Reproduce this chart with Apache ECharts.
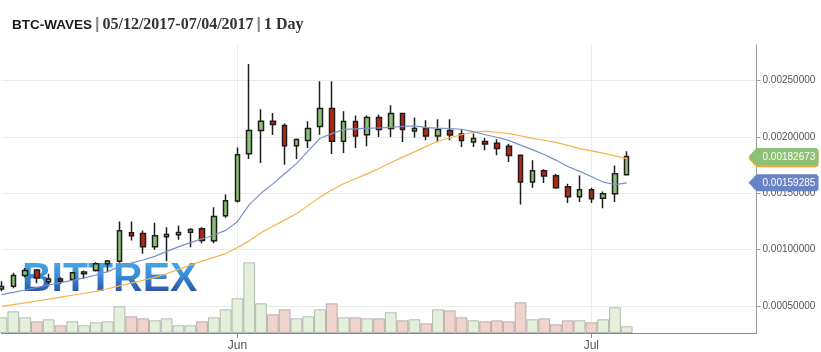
<!DOCTYPE html>
<html><head><meta charset="utf-8">
<script src="https://cdn.jsdelivr.net/npm/echarts@6/dist/echarts.min.js"></script>
<style>
html,body{margin:0;padding:0;background:#fff}
#wrap{position:relative;width:821px;height:352px}
#wm{position:absolute;left:22px;top:254px;font:bold 41px "Liberation Sans",Arial,sans-serif;line-height:46px;
 background:linear-gradient(to bottom,#45b6ee 0%,#3a8fd8 45%,#26378f 100%);-webkit-background-clip:text;background-clip:text;color:transparent;z-index:0;white-space:nowrap}
#c{position:absolute;left:0;top:0;width:821px;height:352px;z-index:1}
</style>
</head><body><div id="wrap"><div id="wm">BITTREX</div><div id="c"></div></div>
<script>
const dates = ['05-12','05-13','05-14','05-15','05-16','05-17','05-18','05-19','05-20','05-21','05-22','05-23','05-24','05-25','05-26','05-27','05-28','05-29','05-30','05-31',
'06-01','06-02','06-03','06-04','06-05','06-06','06-07','06-08','06-09','06-10','06-11','06-12','06-13','06-14','06-15','06-16','06-17','06-18','06-19','06-20','06-21','06-22','06-23','06-24','06-25','06-26','06-27','06-28','06-29','06-30',
'07-01','07-02','07-03','07-04','07-05','07-06','07-07','07-08','07-09','07-10','07-11','07-12','07-13','07-14','07-15'];
const monthLabels = {'06-01':'Jun','07-01':'Jul'};
const priceStep = 0.0005;

const opens = [0.000651,0.000674,0.000770,0.000820,0.000716,0.000740,0.000734,0.000785,0.000814,0.000874,
0.000897,0.001149,0.001143,0.001025,0.001114,0.001132,0.001155,0.001185,0.001078,0.001301,
0.001431,0.001852,0.002057,0.002140,0.002101,0.001923,0.001968,0.002093,0.002253,0.001962,
0.002137,0.002021,0.002173,0.002075,0.002208,0.002053,0.002075,0.002009,0.002057,0.002027,
0.001956,0.001959,0.001944,0.001917,0.001837,0.001600,0.001701,0.001657,0.001559,0.001470,
0.001532,0.001457,0.001496,0.001665];
const closes = [0.000672,0.000770,0.000814,0.000749,0.000740,0.000719,0.000794,0.000802,0.000874,0.000900,
0.001167,0.001123,0.001025,0.001123,0.001134,0.001152,0.001179,0.001081,0.001294,0.001434,
0.001843,0.002057,0.002140,0.002110,0.001923,0.001977,0.002075,0.002253,0.001962,0.002137,
0.002009,0.002173,0.002066,0.002208,0.002066,0.002075,0.002009,0.002066,0.002018,0.001968,
0.001986,0.001938,0.001897,0.001835,0.001600,0.001701,0.001653,0.001550,0.001470,0.001532,
0.001452,0.001496,0.001674,0.00182673];
const lows = [0.000630,0.000657,0.000752,0.000701,0.000696,0.000696,0.000725,0.000740,0.000805,0.000799,
0.000883,0.001081,0.000963,0.001000,0.000897,0.001087,0.001021,0.001057,0.001057,0.001283,
0.001419,0.001804,0.001769,0.002018,0.001754,0.001804,0.001902,0.002021,0.001849,0.001858,
0.001902,0.001917,0.002000,0.002000,0.001956,0.001995,0.001971,0.001953,0.001971,0.001911,
0.001911,0.001882,0.001837,0.001778,0.001401,0.001550,0.001591,0.001541,0.001413,0.001422,
0.001413,0.001368,0.001422,0.001665];
const highs = [0.000719,0.000794,0.000838,0.000829,0.000785,0.000754,0.000799,0.000814,0.000888,0.000909,
0.001250,0.001250,0.001170,0.001238,0.001199,0.001214,0.001190,0.001199,0.001377,0.001490,
0.001906,0.002647,0.002246,0.002214,0.002119,0.001986,0.002140,0.002496,0.002496,0.002229,
0.002190,0.002190,0.002199,0.002282,0.002215,0.002173,0.002149,0.002157,0.002157,0.002066,
0.002030,0.001991,0.001980,0.001941,0.001840,0.001793,0.001713,0.001674,0.001585,0.001659,
0.001550,0.001517,0.001748,0.001873];
const volumes = [157,217,157,117,137,77,117,77,107,117,
267,167,147,127,147,77,77,117,157,237,
347,707,297,187,237,147,167,237,297,157,
157,147,147,207,127,137,97,237,227,157,
127,117,127,117,307,137,147,87,127,127,
107,137,257,67];
const maFast = [0.000600,0.000620,0.000642,0.000664,0.000686,0.000707,0.000728,0.000750,0.000775,0.000805,
0.000850,0.000880,0.000908,0.000940,0.000985,0.001025,0.001062,0.001095,0.001130,0.001171,
0.001248,0.001400,0.001500,0.001584,0.001674,0.001764,0.001877,0.001989,0.002030,0.002067,
0.002073,0.002078,0.002080,0.002085,0.002093,0.002098,0.002083,0.002078,0.002075,0.002069,
0.002048,0.002020,0.001998,0.001970,0.001928,0.001888,0.001845,0.001795,0.001738,0.001695,
0.001650,0.001600,0.001578,0.00159285];
const maSlow = [0.000496,0.000512,0.000528,0.000544,0.000560,0.000578,0.000595,0.000613,0.000630,0.000653,
0.000678,0.000703,0.000728,0.000754,0.000786,0.000825,0.000862,0.000898,0.000932,0.000965,
0.001019,0.001078,0.001150,0.001207,0.001262,0.001318,0.001393,0.001468,0.001530,0.001585,
0.001629,0.001673,0.001721,0.001771,0.001821,0.001868,0.001917,0.001962,0.001993,0.002020,
0.002042,0.002052,0.002042,0.002030,0.002011,0.001988,0.001971,0.001953,0.001926,0.001897,
0.001877,0.001857,0.001833,0.001808];

const FONT = '"Liberation Sans", Arial, sans-serif';
const UP = '#8cc176', DOWN = '#b8290f';
const chart = echarts.init(document.getElementById('c'));
const candleData = opens.map((o, i) => [o, closes[i], lows[i], highs[i]]);
const volData = volumes.map((v, i) => ({value: v, itemStyle: {color: closes[i] >= opens[i] ? '#e4f0dc' : '#efd3cc'}}));
const isMonth = (idx, val) => monthLabels[val] !== undefined;

chart.setOption({
  animation: false,
  backgroundColor: 'transparent',
  title: {
    left: 12, top: 15, padding: 0,
    text: '{a|BTC-WAVES}{s||}{b|05/12/2017-07/04/2017}{s||}{b|1 Day}',
    textStyle: {
      rich: {
        a: {fontFamily: FONT, fontWeight: 'bold', fontSize: 13.5, color: '#1a1a1a', lineHeight: 20},
        s: {fontFamily: FONT, fontSize: 16, color: '#888', padding: [0, 3, 0, 3], lineHeight: 20},
        b: {fontFamily: '"Liberation Serif", serif', fontSize: 16, color: '#333', lineHeight: 20}
      }
    }
  },
  grid: [
    {left: 1.5, right: 64.5, top: 45, bottom: 0},
    {left: 1.5, right: 64.5, top: 45, bottom: 19}
  ],
  xAxis: [
    {type: 'category', gridIndex: 0, data: dates, boundaryGap: false, show: false},
    {type: 'category', gridIndex: 1, data: dates, boundaryGap: false,
     axisLine: {lineStyle: {color: '#8a8a8a'}},
     axisTick: {interval: isMonth, length: 5, lineStyle: {color: '#8a8a8a'}},
     axisLabel: {interval: isMonth, formatter: v => monthLabels[v] || '', color: '#555', fontSize: 12, fontFamily: FONT, margin: 7},
     splitLine: {show: true, interval: isMonth, lineStyle: {color: '#ebebeb'}}}
  ],
  yAxis: [
    {type: 'value', gridIndex: 0, position: 'right', min: 0.0000914, max: 0.0028167,
     minInterval: priceStep, maxInterval: priceStep,
     axisLine: {show: false},
     axisTick: {show: true, length: 4, lineStyle: {color: '#999'}},
     axisLabel: {formatter: v => v.toFixed(8), color: '#555', fontSize: 10, fontFamily: FONT, margin: 6, showMaxLabel: false, showMinLabel: false},
     splitLine: {show: true, showMaxLine: false, showMinLine: false, lineStyle: {color: '#ebebeb'}}},
    {type: 'value', gridIndex: 1, position: 'right', min: 0, max: 2880,
     axisLine: {show: true, lineStyle: {color: '#9a9a9a'}},
     axisTick: {show: false}, axisLabel: {show: false}, splitLine: {show: false}}
  ],
  series: [
    {type: 'bar', xAxisIndex: 1, yAxisIndex: 1, data: volData, barWidth: 11.8, z: 1,
     itemStyle: {borderColor: 'rgba(110,110,110,0.45)', borderWidth: 1}},
    {type: 'candlestick', xAxisIndex: 0, yAxisIndex: 0, data: candleData, barWidth: 5, clip: false, z: 3,
     itemStyle: {color: UP, color0: DOWN, borderColor: '#1e1e1e', borderColor0: '#1e1e1e', borderWidth: 1.5}},
    {type: 'line', xAxisIndex: 0, yAxisIndex: 0, data: maSlow, showSymbol: false, z: 4,
     lineStyle: {color: '#f6b24a', width: 1.2}},
    {type: 'line', xAxisIndex: 0, yAxisIndex: 0, data: maFast, showSymbol: false, z: 4,
     lineStyle: {color: '#7890c8', width: 1.2}}
  ]
});

function tag(id, value, color, z) {
  const rect = chart.getModel().getComponent('grid', 0).coordinateSystem.getRect();
  const xR = rect.x + rect.width;
  const y = chart.convertToPixel({yAxisIndex: 0}, value);
  return {
    id: id, type: 'group', x: xR, y: y, z: z,
    children: [
      {type: 'polygon', z: z, shape: {points: [[-8, 0], [0, -8.5], [60, -8.5], [62, -6.5], [62, 6.5], [60, 8.5], [0, 8.5]]},
       style: {fill: color}},
      {type: 'text', z: z + 1, x: 6, y: 0.5,
       style: {text: value.toFixed(8), fill: '#fff', font: '10px "Liberation Sans", Arial, sans-serif', verticalAlign: 'middle', align: 'left'}}
    ]
  };
}
const last = closes.length - 1;
chart.setOption({
  graphic: [
    tag('tagSlow', maSlow[last], '#f3a83b', 20),
    tag('tagClose', closes[last], '#8cc176', 30),
    tag('tagFast', maFast[last], '#6884c6', 40)
  ]
});
</script>
</body></html>
